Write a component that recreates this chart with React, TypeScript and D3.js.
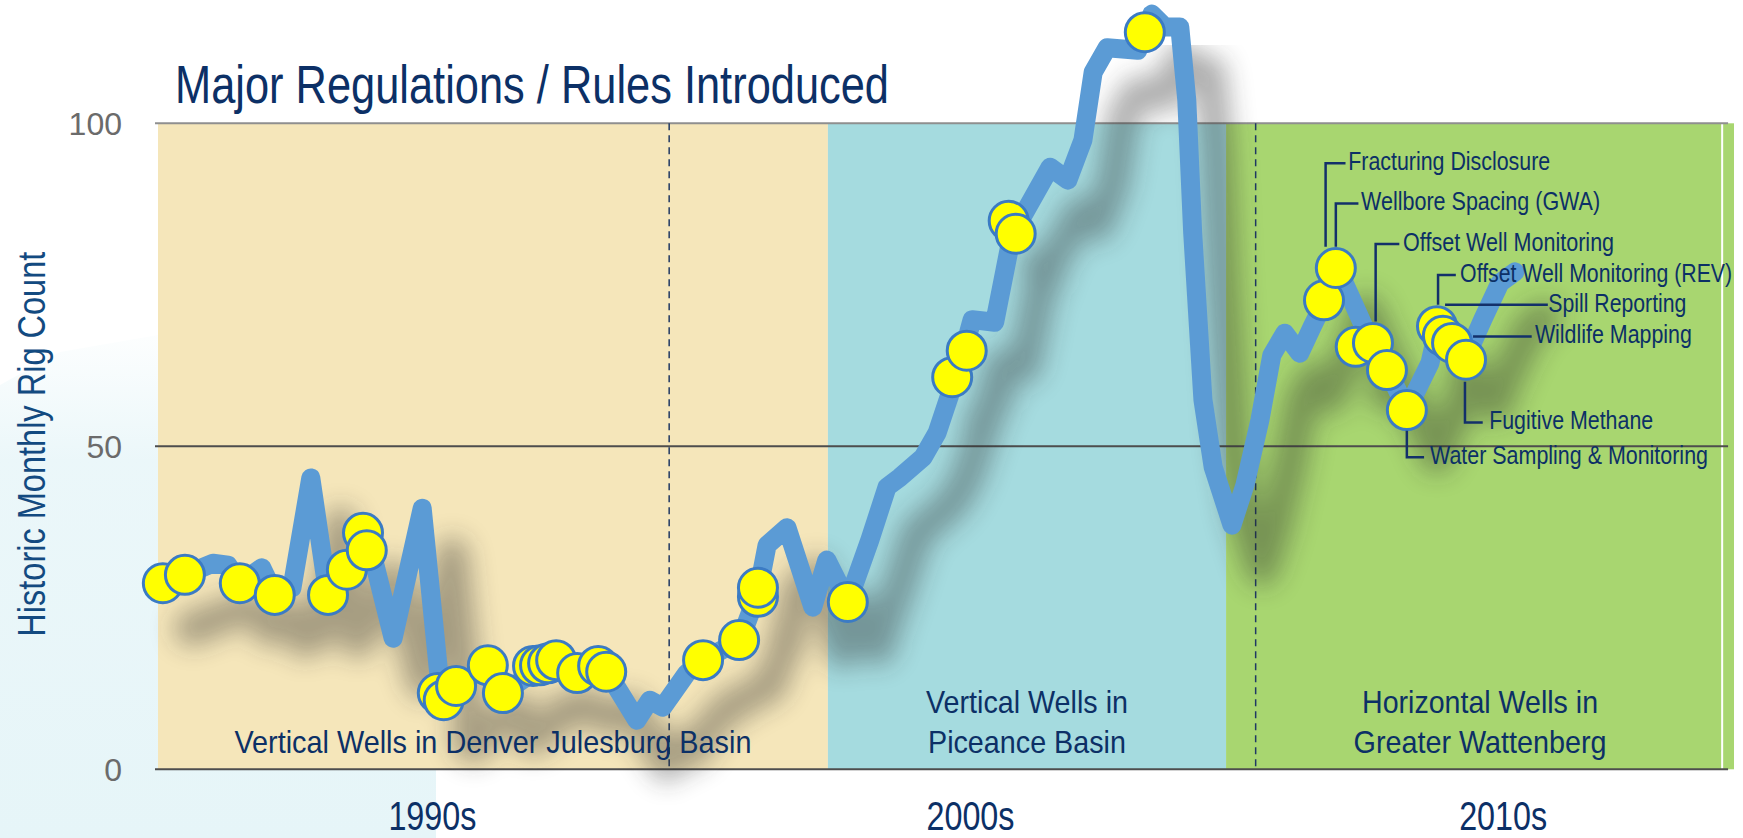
import React from 'react';
import * as d3 from 'd3';

// ---------------- DATA ----------------
const lineYears = [
  1989.94, 1990.4, 1990.92, 1991.2, 1991.42, 1991.83, 1992.07, 1992.39, 1992.74, 1993.06,
  1993.41, 1993.71, 1993.84, 1994.27, 1994.81, 1995.14, 1995.23, 1995.44, 1996.03, 1996.31,
  1996.72, 1997.09, 1997.37, 1997.69, 1998.08, 1998.26, 1998.8, 1999.04, 1999.28, 1999.73,
  2000.03, 2000.72, 2001.05, 2001.22, 2001.59, 2002.07, 2002.33, 2002.72, 2003.13, 2003.45,
  2003.69, 2004.12, 2004.38, 2004.8, 2005.03, 2005.45, 2005.77, 2006.48, 2006.81, 2007.09,
  2007.28, 2007.54, 2008.11, 2008.37, 2008.61, 2008.89, 2009.02, 2009.13, 2009.32, 2009.51,
  2009.86, 2010.1, 2010.38, 2010.6, 2010.84, 2011.12, 2011.35, 2011.59, 2011.79, 2011.96,
  2012.42, 2012.8, 2013.11, 2013.54, 2013.69, 2014.19, 2014.52, 2014.84, 2015.12,
];
const lineCounts = [
  28.8, 30.1, 31.9, 31.6, 28.8, 31.2, 27.0, 28.1, 45.1, 27.0,
  30.9, 36.6, 34.7, 20.3, 40.4, 13.0, 10.7, 12.9, 16.1, 11.8,
  14.1, 16.5, 16.9, 14.9, 16.0, 14.9, 7.6, 10.7, 9.6, 14.9,
  16.9, 20.0, 27.4, 34.7, 37.4, 25.1, 32.4, 25.9, 35.5, 43.7,
  45.2, 48.3, 52.1, 62.6, 69.6, 69.2, 82.7, 93.2, 91.2, 97.4,
  107.9, 111.7, 111.3, 116.9, 114.9, 114.9, 103.6, 83.0, 57.2, 46.8,
  37.8, 44.0, 54.1, 64.1, 67.5, 64.4, 68.5, 72.6, 78.1, 75.0,
  66.5, 61.0, 55.6, 62.9, 68.5, 63.4, 69.6, 75.3, 77.0,
];

// regulation / rule introductions
const markerYears = [
  1989.99, 1990.4, 1991.42, 1992.07, 1993.06, 1993.41, 1993.71, 1993.78, 1995.1, 1995.21,
  1995.44, 1996.03, 1996.31, 1996.87, 1997.0, 1997.15, 1997.3, 1997.69, 1998.08, 1998.23,
  2000.03, 2000.7, 2001.05, 2001.05, 2002.72, 2004.66, 2004.93, 2005.71, 2005.84, 2008.24,
  2011.57, 2011.79, 2012.16, 2012.48, 2012.74, 2013.11, 2013.67, 2013.78, 2013.95, 2014.21,
];
const markerCounts = [
  28.8, 30.1, 28.8, 27.0, 27.0, 30.9, 36.6, 33.9, 11.8, 10.7,
  12.9, 16.1, 11.8, 16.0, 16.1, 16.4, 16.9, 14.9, 16.0, 15.1,
  16.9, 20.0, 26.7, 28.1, 25.9, 60.7, 64.8, 84.9, 82.9, 114.1,
  72.6, 77.6, 65.4, 66.0, 61.8, 55.6, 68.6, 67.1, 66.0, 63.4,
];

const yTicks = [0, 50, 100];
const gridStyle = ['#4d4d4d', '#4d4d4d', '#8f8f8f'];

const regionStarts = [1989.9, 2002.35, 2009.75];
const regionEnds = [2002.35, 2009.75, 2019.19];
const regionColors = ['#f5e6ba', '#a5dbdf', '#a8d670'];
const regionLabels = [
  ['Vertical Wells in Denver Julesburg Basin'],
  ['Vertical Wells in', 'Piceance Basin'],
  ['Horizontal Wells in', 'Greater Wattenberg'],
];
const regionLabelWidths = [[517], [202, 198], [236, 253]];

const decadeLabels = ['1990s', '2000s', '2010s'];
const decadeYears = [1995, 2005, 2014.9];

const dashedYears = [1999.4, 2010.3];

const annLabels = [
  'Fracturing Disclosure',
  'Wellbore Spacing (GWA)',
  'Offset Well Monitoring',
  'Offset Well Monitoring (REV)',
  'Spill Reporting',
  'Wildlife Mapping',
  'Fugitive Methane',
  'Water Sampling & Monitoring',
];
const annStartYear = [2011.6, 2011.79, 2012.53, 2013.69, 2013.82, 2014.34, 2014.19, 2013.11];
const annStartValue = [80.9, 80.9, 69.3, 71.9, 71.9, 67.0, 60.0, 52.4];
const annElbowValue = [93.8, 87.6, 81.3, 76.5, 71.9, 67.0, 53.7, 48.3];
const annEndYear = [2011.97, 2012.21, 2012.97, 2014.02, 2015.73, 2015.43, 2014.52, 2013.43];
const annTextYear = [2012.02, 2012.26, 2013.04, 2014.1, 2015.74, 2015.49, 2014.64, 2013.54];
const annTextWidth = [202, 239, 211, 272, 138, 157, 164, 278];

// ---------------- LAYOUT ----------------
const W = 1743;
const H = 838;
const NAVY = '#0c3066';
const NARROW = "'Liberation Sans Narrow', 'Liberation Sans', Arial, sans-serif";
const SANS = "'Liberation Sans', Arial, sans-serif";

export default function App() {
  const x = d3.scaleLinear().domain([1989.9, 2019.19]).range([158, 1734]);
  const y = d3.scaleLinear().domain([0, 100]).range([769.3, 123.3]);

  const pts: [number, number][] = lineYears.map((yr, i) => [yr, lineCounts[i]]);
  const line = d3
    .line<[number, number]>()
    .x((d) => x(d[0]))
    .y((d) => y(d[1]));
  const pathD = line(pts) || '';

  const markers = markerYears.map((yr, i) => ({ cx: x(yr), cy: y(markerCounts[i]) }));

  const gridX0 = x(1989.9) - 3;
  const gridX1 = x(2019.08);
  const y0 = y(0);
  const y100 = y(100);

  return (
    <svg
      width={W}
      height={H}
      viewBox={`0 0 ${W} ${H}`}
      style={{ position: 'absolute', left: 0, top: 0, background: '#ffffff' }}
    >
      <defs>
        <filter id="shadowBlur" filterUnits="userSpaceOnUse" x={0} y={0} width={W} height={H}>
          <feGaussianBlur stdDeviation={13} />
        </filter>
        <linearGradient id="cyanFade" x1="0" y1="0" x2="0" y2="1">
          <stop offset="0" stopColor="#e6f5f8" stopOpacity={0.1} />
          <stop offset="0.25" stopColor="#e6f5f8" stopOpacity={0.8} />
          <stop offset="1" stopColor="#e6f5f8" stopOpacity={1} />
        </linearGradient>
      </defs>

      {/* faint halftone backdrop on the left */}
      <polygon
        points={`0,385 60,352 ${x(1989.9)},335 ${x(1989.9)},${y0} 436,${y0} 436,${H} 0,${H}`}
        fill="url(#cyanFade)"
      />

      {/* region backgrounds */}
      {regionStarts.map((s, i) => (
        <rect
          key={'r' + i}
          x={x(s)}
          y={y100}
          width={x(regionEnds[i]) - x(s)}
          height={y0 - y100}
          fill={regionColors[i]}
        />
      ))}
      <line x1={x(2018.97)} x2={x(2018.97)} y1={y100} y2={y0} stroke="#ffffff" strokeWidth={2} />

      {/* gridlines */}
      {yTicks.map((t, i) => (
        <line
          key={'g' + t}
          x1={gridX0}
          x2={gridX1}
          y1={y(t)}
          y2={y(t)}
          stroke={gridStyle[i]}
          strokeWidth={2}
        />
      ))}

      {/* dashed vertical separators */}
      {dashedYears.map((yr) => (
        <line
          key={'d' + yr}
          x1={x(yr)}
          x2={x(yr)}
          y1={y100}
          y2={y0}
          stroke="#1f3864"
          strokeWidth={1.5}
          strokeDasharray="7,5"
        />
      ))}

      {/* tick labels */}
      {yTicks.map((t) => (
        <text
          key={'t' + t}
          x={122}
          y={y(t) + 11.5}
          textAnchor="end"
          fontFamily={SANS}
          fontSize={32}
          fill="#6b6b6b"
        >
          {t}
        </text>
      ))}

      {/* y-axis title */}
      <text
        transform={`translate(45, ${444.2}) rotate(-90)`}
        textAnchor="middle"
        fontFamily={SANS}
        fontSize={39}
        fill="#134a80"
        textLength={385}
        lengthAdjust="spacingAndGlyphs"
      >
        Historic Monthly Rig Count
      </text>

      {/* title */}
      <text
        x={175}
        y={103.3}
        fontFamily={NARROW}
        fontSize={53}
        fill={NAVY}
        textLength={714}
        lengthAdjust="spacingAndGlyphs"
      >
        Major Regulations / Rules Introduced
      </text>

      {/* shadow */}
      <g transform="translate(30,45)" filter="url(#shadowBlur)" opacity={0.38}>
        <path d={pathD} fill="none" stroke="#262626" strokeWidth={32} strokeLinejoin="round" strokeLinecap="round" />
        {markers.map((m, i) => (
          <circle key={'s' + i} cx={m.cx} cy={m.cy} r={18} fill="#262626" />
        ))}
      </g>

      {/* region labels */}
      {regionLabels.map((lines, i) => {
        const cx = (x(regionStarts[i]) + x(regionEnds[i])) / 2;
        return lines.map((txt, j) => {
          const baseline = y0 - 16 - (lines.length - 1 - j) * 40;
          return (
            <text
              key={'rl' + i + j}
              x={cx}
              y={baseline}
              textAnchor="middle"
              fontFamily={NARROW}
              fontSize={32}
              fill={NAVY}
              textLength={regionLabelWidths[i][j]}
              lengthAdjust="spacingAndGlyphs"
            >
              {txt}
            </text>
          );
        });
      })}

      {/* rig count line */}
      <path d={pathD} fill="none" stroke="#5b9bd5" strokeWidth={19} strokeLinejoin="round" strokeLinecap="round" />

      {/* markers */}
      {markers.map((m, i) => (
        <circle key={'m' + i} cx={m.cx} cy={m.cy} r={19.5} fill="#ffff00" stroke="#3b7bc4" strokeWidth={3} />
      ))}

      {/* annotations */}
      {annLabels.map((lab, i) => {
        const sx = x(annStartYear[i]);
        const sy = y(annStartValue[i]);
        const ey = y(annElbowValue[i]);
        const ex = x(annEndYear[i]);
        return (
          <g key={'a' + i}>
            <path
              d={`M${sx},${sy} L${sx},${ey} L${ex},${ey}`}
              fill="none"
              stroke="#13306a"
              strokeWidth={2.5}
            />
            <text
              x={x(annTextYear[i])}
              y={ey + 7}
              fontFamily={NARROW}
              fontSize={26}
              fill={NAVY}
              textLength={annTextWidth[i]}
              lengthAdjust="spacingAndGlyphs"
            >
              {lab}
            </text>
          </g>
        );
      })}

      {/* decade labels */}
      {decadeLabels.map((d, i) => (
        <text
          key={'dl' + d}
          x={x(decadeYears[i])}
          y={y0 + 61}
          textAnchor="middle"
          fontFamily={NARROW}
          fontSize={40}
          fill={NAVY}
          textLength={88}
          lengthAdjust="spacingAndGlyphs"
        >
          {d}
        </text>
      ))}
    </svg>
  );
}
